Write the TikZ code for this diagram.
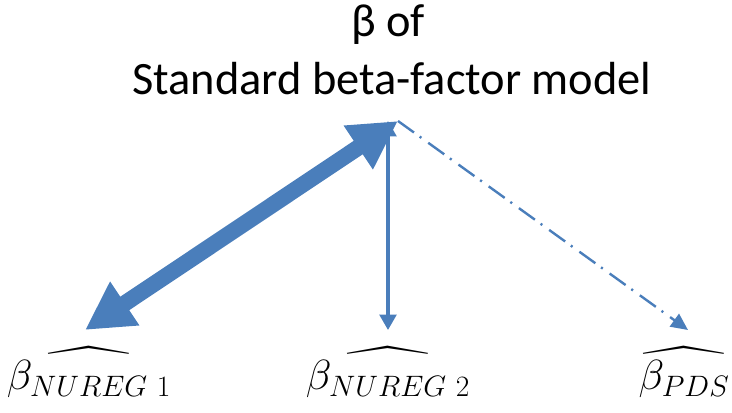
\RequirePackage{fix-cm}
\documentclass[tikz,border=0pt]{standalone}
\usepackage{amsmath}
\usepackage{exscale}
\usepackage{graphicx}
\usepackage[no-math]{fontspec}
\setmainfont{Carlito}
\usetikzlibrary{arrows.meta}
\definecolor{arrowblue}{RGB}{74,126,187}
\newcommand{\esthat}[1]{\ooalign{#1\cr\hidewidth
  \raisebox{8pt}{\scalebox{1.6}[1.2]{$\widehat{\hphantom{\beta\beta}}$}}\hidewidth\cr}}

\tikzset{
  hdr/.style={font=\fontsize{33}{40}\selectfont, inner sep=0pt, anchor=base},
  est/.style={font=\fontsize{30}{36}\selectfont, inner sep=0pt, anchor=base},
  fatlink/.style={draw=arrowblue, line width=11.5pt,
    {Triangle[length=34pt,width=35pt]}-{Triangle[length=34pt,width=35pt]}},
  thinlink/.style={draw=arrowblue, line width=2.2pt,
    {Triangle[length=11pt,width=12pt]}-{Triangle[length=11pt,width=12pt]}},
  dashlink/.style={draw=arrowblue, line width=1.7pt,
    dash pattern=on 14pt off 5pt on 1.5pt off 6pt,
    -{Triangle[length=12pt,width=11pt]}}
}

\begin{document}
\begin{tikzpicture}[x=0.025cm, y=-0.025cm]
  \useasboundingbox (0,0) rectangle (732,413);
  % title
  \node[hdr] (hdr1) at (388,37) {β of};
  \node[hdr] (hdr2) at (392,95) {Standard beta-factor model};
  \coordinate (apex) at (398,121);
  % estimates
  \node[est] (nureg1) at (89,390) {\esthat{$\beta_{NUREG\ 1}$}};
  \node[est] (nureg2) at (388,390) {\esthat{$\beta_{NUREG\ 2}$}};
  \node[est] (pds) at (684,390) {\esthat{$\beta_{PDS}$}};
  % links
  \draw[fatlink] ([shift={(-4,-60)}]nureg1.base) -- (apex);
  \draw[thinlink] ([shift={(0,-60)}]nureg2.base) -- (nureg2.base |- apex);
  \draw[dashlink] (apex) -- ([shift={(4,-60)}]pds.base);
\end{tikzpicture}
\end{document}
